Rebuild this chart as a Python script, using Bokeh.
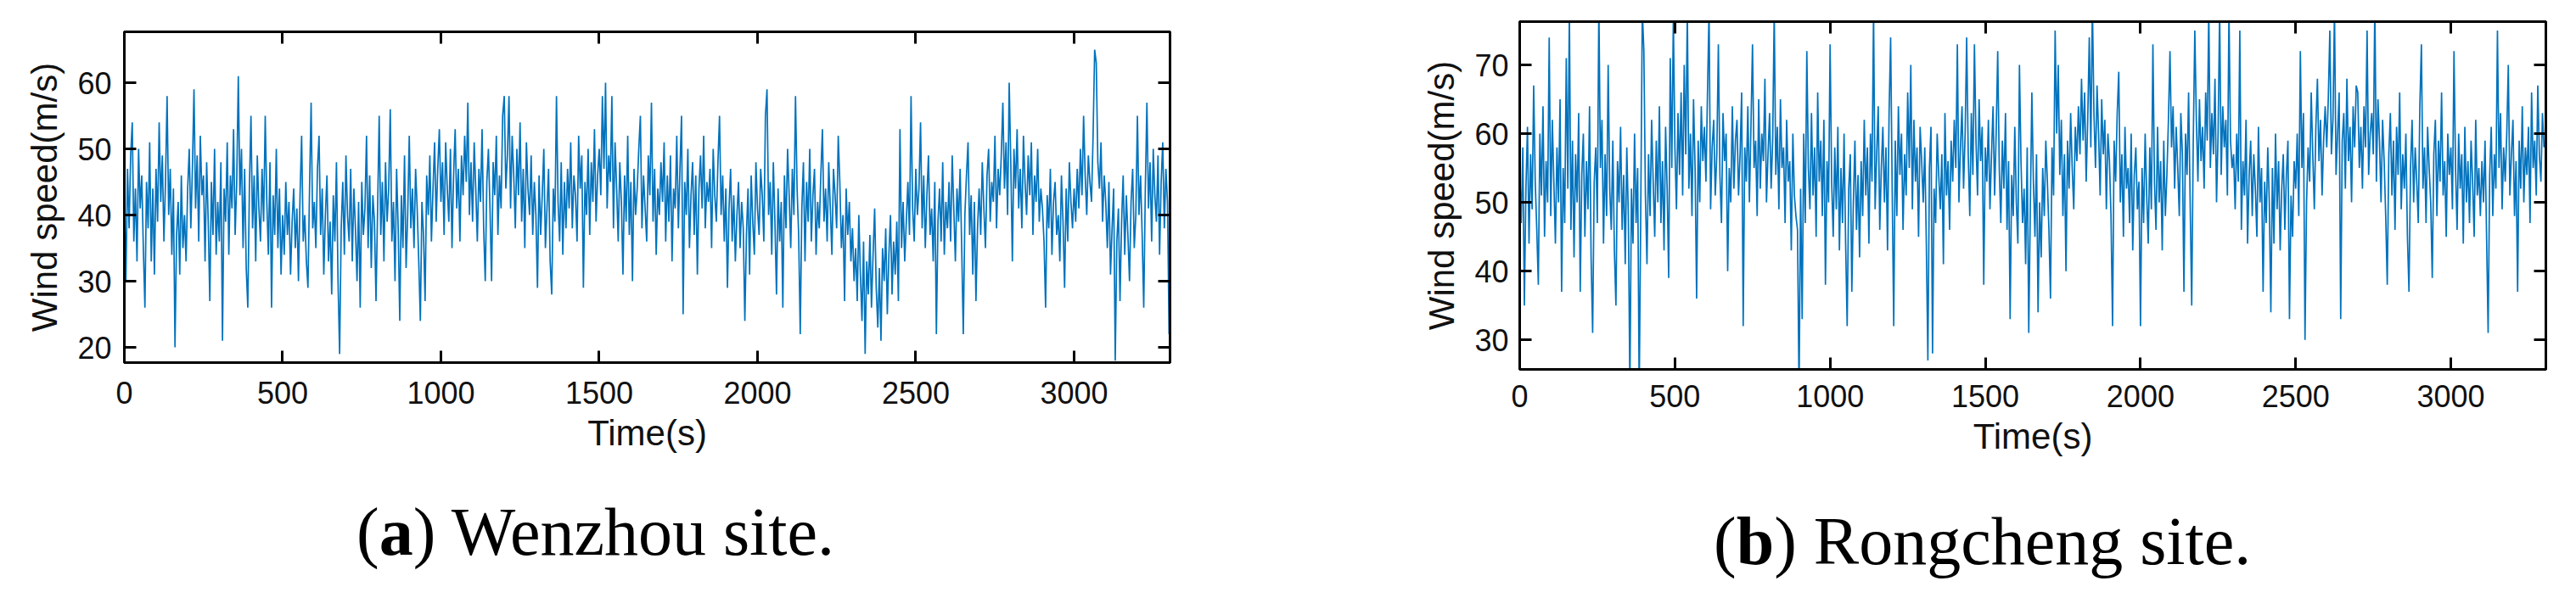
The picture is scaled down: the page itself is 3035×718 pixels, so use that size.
from bokeh.plotting import figure
from bokeh.models import LinearAxis, Range1d, FixedTicker, Div
from bokeh.layouts import row, column
from bokeh.embed import file_html
from bokeh.resources import INLINE

# ---------------- data ----------------
time_s = list(range(0, 3301, 5))
x_ticks = [0, 500, 1000, 1500, 2000, 2500, 3000]
wz_y_ticks = [20, 30, 40, 50, 60]
rc_y_ticks = [30, 40, 50, 60, 70]

wenzhou = [
    43, 30, 47, 38, 49, 54, 36, 44, 33, 50, 41, 46, 35, 26, 45, 38, 51, 33, 44, 31,
    47, 39, 54, 42, 49, 36, 45, 58, 40, 47, 34, 44, 20, 37, 42, 31, 46, 35, 40, 33,
    44, 50, 38, 47, 59, 41, 49, 36, 52, 43, 46, 33, 48, 39, 27, 45, 37, 50, 34, 42,
    36, 48, 21, 44, 39, 51, 34, 46, 41, 53, 37, 45, 61, 43, 50, 35, 47, 32, 26, 44,
    55, 38, 46, 33, 49, 41, 36, 47, 39, 55, 42, 34, 48, 26, 43, 37, 50, 35, 44, 31,
    40, 34, 45, 37, 42, 31, 39, 44, 35, 41, 30, 43, 52, 36, 40, 33, 29, 44, 57, 38,
    42, 35, 47, 52, 37, 44, 31, 40, 46, 33, 39, 28, 43, 36, 48, 30, 19, 38, 45, 34,
    49, 40, 36, 47, 33, 44, 38, 30, 42, 26, 45, 37, 41, 52, 35, 46, 32, 43, 39, 27,
    41, 55, 37, 45, 33, 48, 39, 44, 56, 36, 42, 30, 47, 38, 24, 43, 35, 49, 32, 40,
    52, 38, 44, 35, 47, 41, 33, 24, 42, 37, 27, 46, 40, 49, 36, 44, 51, 39, 47, 53,
    42, 48, 37, 51, 44, 39, 50, 35, 46, 53, 41, 47, 36, 49, 43, 52, 45, 57, 40, 48,
    39, 51, 44, 36, 47, 42, 53, 38, 30, 45, 50, 41, 30, 48, 43, 52, 37, 46, 41, 55,
    58, 44, 49, 58, 41, 52, 46, 38, 50, 43, 54, 39, 47, 35, 51, 44, 40, 49, 37, 45,
    40, 29, 46, 37, 43, 50, 35, 41, 47, 33, 28, 44, 39, 58, 42, 36, 48, 34, 45, 38,
    47, 41, 51, 38, 46, 43, 36, 52, 44, 49, 29, 45, 40, 50, 37, 48, 42, 53, 39, 46,
    50, 43, 58, 47, 60, 41, 49, 45, 58, 38, 51, 44, 36, 48, 42, 31, 46, 39, 52, 37,
    45, 30, 47, 40, 44, 50, 55, 38, 46, 41, 36, 49, 43, 57, 39, 47, 34, 44, 40, 48,
    42, 51, 36, 46, 39, 49, 33, 44, 41, 52, 38, 47, 55, 25, 45, 40, 50, 35, 43, 48,
    37, 46, 31, 44, 49, 41, 52, 38, 45, 42, 47, 35, 50, 43, 39, 48, 55, 40, 46, 36,
    44, 29, 41, 47, 36, 43, 33, 40, 45, 35, 42, 38, 24, 37, 44, 31, 46, 39, 34, 48,
    41, 37, 47, 43, 36, 55, 59, 40, 45, 34, 48, 39, 28, 44, 36, 42, 26, 46, 38, 50,
    43, 35, 47, 40, 58, 44, 37, 22, 41, 48, 33, 45, 39, 50, 36, 43, 47, 34, 42, 38,
    46, 53, 39, 44, 36, 48, 41, 34, 47, 43, 38, 52, 45, 35, 40, 27, 44, 37, 42, 33,
    38, 30, 35, 27, 40, 31, 24, 36, 19, 33, 28, 37, 26, 34, 41, 29, 23, 32, 21, 35,
    30, 38, 25, 34, 40, 28, 36, 31, 39, 27, 53, 35, 42, 33, 39, 45, 37, 58, 41, 36,
    47, 40, 44, 54, 38, 46, 35, 43, 49, 37, 41, 33, 45, 22, 39, 44, 36, 48, 34, 42,
    38, 45, 36, 49, 41, 33, 44, 39, 47, 35, 22, 40, 46, 51, 37, 43, 31, 42, 27, 38,
    44, 37, 48, 41, 35, 46, 50, 39, 45, 42, 52, 38, 47, 43, 49, 57, 44, 51, 40, 60,
    48, 33, 50, 44, 53, 41, 47, 38, 52, 45, 40, 49, 43, 51, 37, 46, 42, 50, 39, 44,
    41, 36, 26, 43, 38, 47, 34, 42, 45, 37, 40, 33, 46, 39, 29, 44, 36, 48, 42, 38,
    44, 39, 47, 41, 50, 43, 55, 46, 40, 49, 45, 42, 52, 65, 63, 48, 44, 51, 39, 46,
    42, 35, 45, 31, 38, 44, 18, 36, 41, 27, 39, 46, 34, 43, 37, 30, 42, 47, 35, 40,
    55, 40, 46, 37, 26, 44, 57, 41, 48, 36, 50, 43, 39, 49, 34, 45, 51, 38, 47, 42,
    22,
]

rongcheng = [
    55, 47, 58, 35, 52, 61, 44, 57, 49, 67, 53, 46, 38, 60, 51, 64, 45, 56, 50, 74,
    48, 62, 53, 44, 58, 50, 65, 37, 55, 47, 71, 52, 78, 46, 59, 42, 57, 50, 63, 37,
    54, 60, 45, 56, 49, 64, 42, 31, 53, 58, 47, 79, 55, 62, 44, 57, 48, 70, 52, 46,
    59, 43, 35, 56, 50, 61, 46, 54, 41, 58, 48, 23, 52, 44, 60, 47, 55, 22, 49, 78,
    72, 51, 41, 57, 48, 62, 53, 45, 59, 50, 64, 47, 56, 43, 61, 52, 39, 71, 55, 77,
    58, 49, 63, 54, 66, 51, 70, 57, 78, 52, 60, 48, 65, 55, 36, 59, 50, 64, 56, 61,
    53, 66, 78, 49, 58, 62, 51, 57, 73, 54, 47, 63, 56, 60, 40, 55, 50, 64, 52, 59,
    62, 51, 57, 66, 32, 58, 53, 64, 50, 61, 73, 55, 59, 48, 65, 52, 60, 56, 68, 50,
    57, 63, 52, 59, 78, 54, 61, 49, 65, 55, 58, 47, 62, 53, 56, 43, 60, 51, 48, 46,
    22, 52, 33, 60, 47, 72, 55, 49, 63, 51, 58, 45, 66, 53, 59, 48, 62, 38, 56, 50,
    73, 53, 45, 58, 49, 61, 43, 55, 47, 60, 44, 32, 52, 57, 37, 50, 59, 46, 54, 42,
    56, 48, 62, 51, 58, 44, 60, 53, 78, 49, 57, 64, 46, 55, 61, 50, 58, 43, 63, 74,
    52, 32, 59, 48, 64, 54, 60, 46, 57, 51, 66, 55, 70, 49, 62, 53, 58, 45, 61, 56,
    50, 58, 44, 27, 55, 61, 28, 52, 47, 60, 54, 49, 57, 41, 63, 51, 56, 46, 59, 53,
    62, 55, 73, 50, 58, 64, 52, 60, 74, 57, 48, 63, 54, 73, 59, 51, 65, 56, 61, 38,
    58, 53, 62, 49, 57, 64, 51, 60, 72, 55, 47, 59, 52, 63, 46, 56, 33, 54, 48, 61,
    50, 44, 70, 56, 47, 52, 41, 58, 31, 49, 66, 53, 45, 57, 34, 50, 42, 55, 48, 59,
    53, 46, 36, 58, 51, 75, 60, 70, 54, 62, 48, 57, 40, 59, 52, 63, 55, 49, 61, 56,
    64, 57, 68, 59, 66, 53, 62, 74, 58, 79, 63, 55, 67, 60, 51, 65, 57, 62, 49, 60,
    56, 48, 32, 59, 53, 63, 69, 50, 57, 45, 61, 52, 55, 47, 60, 43, 54, 58, 49, 53,
    32, 55, 47, 60, 51, 44, 58, 49, 73, 53, 46, 61, 50, 56, 43, 59, 48, 54, 62, 72,
    58, 64, 52, 61, 55, 48, 63, 57, 37, 60, 54, 66, 50, 35, 59, 75, 62, 53, 65, 56,
    61, 52, 66, 59, 78, 55, 63, 57, 68, 50, 60, 78, 54, 64, 58, 62, 51, 78, 59, 55,
    57, 49, 60, 53, 75, 46, 56, 51, 62, 44, 54, 59, 48, 57, 52, 45, 61, 50, 55, 37,
    53, 47, 58, 50, 34, 55, 44, 60, 49, 56, 43, 52, 57, 46, 54, 59, 33, 51, 45, 56,
    52, 60, 48, 72, 55, 63, 30, 50, 58, 53, 66, 57, 49, 61, 68, 56, 62, 51, 59, 64,
    58, 65, 75, 57, 62, 78, 54, 60, 66, 33, 59, 63, 52, 68, 56, 61, 50, 64, 58, 67,
    66, 55, 61, 52, 64, 58, 75, 54, 60, 63, 57, 79, 53, 65, 59, 50, 62, 56, 48, 38,
    57, 63, 51, 59, 46, 61, 54, 66, 49, 57, 52, 60, 45, 37, 55, 62, 50, 58, 53, 47,
    64, 73, 52, 58, 47, 61, 55, 50, 39, 57, 62, 48, 59, 53, 66, 51, 56, 45, 60, 54,
    58, 49, 72, 55, 46, 60, 52, 57, 44, 61, 50, 56, 47, 59, 53, 45, 62, 51, 55, 48,
    56, 50, 59, 45, 31, 54, 61, 48, 57, 52, 75, 55, 63, 49, 58, 53, 60, 70, 51, 57,
    62, 48, 56, 37, 59, 52, 64, 50, 58, 54, 61, 47, 66, 55, 59, 51, 67, 57, 53, 63,
    58,
]

x_label = "Time(s)"
y_label = "Wind speed(m/s)"
captions = [("a", "Wenzhou site."), ("b", "Rongcheng site.")]

LINE_COLOR = "#0072BD"
SANS = "Liberation Sans"
SERIF = "Liberation Serif"


def style_axis(ax, ticks, show_labels, standoff):
    ax.ticker = FixedTicker(ticks=ticks)
    ax.major_tick_in = 14
    ax.major_tick_out = 0
    ax.minor_tick_in = 0
    ax.minor_tick_out = 0
    ax.major_tick_line_width = 3
    ax.major_tick_line_color = "black"
    ax.axis_line_width = 3
    ax.axis_line_color = "black"
    ax.major_label_text_font = SANS
    ax.major_label_text_font_size = "36px"
    ax.major_label_text_color = "#111111"
    ax.major_label_standoff = standoff
    ax.axis_label_text_font = SANS
    ax.axis_label_text_font_size = "42px"
    ax.axis_label_text_font_style = "normal"
    ax.axis_label_text_color = "#111111"
    if not show_labels:
        ax.major_label_overrides = {t: "" for t in ticks}


def make_panel(values, y_start, y_end, y_ticks, x_end, width, height,
               b_left, b_right, b_top, b_bottom, x_standoff, x_lab_standoff,
               y_standoff, y_lab_standoff):
    p = figure(width=width, height=height,
               x_range=Range1d(0, x_end), y_range=Range1d(y_start, y_end),
               output_backend="svg", toolbar_location=None,
               min_border_left=b_left, min_border_right=b_right,
               min_border_top=b_top, min_border_bottom=b_bottom)
    p.xgrid.visible = False
    p.ygrid.visible = False
    p.outline_line_color = "black"
    p.outline_line_width = 3
    p.background_fill_color = "white"
    p.border_fill_color = "white"

    p.line(time_s, values, line_color=LINE_COLOR, line_width=1.7)

    style_axis(p.xaxis[0], x_ticks, True, x_standoff)
    p.xaxis[0].axis_label = x_label
    p.xaxis[0].axis_label_standoff = x_lab_standoff
    style_axis(p.yaxis[0], y_ticks, True, y_standoff)
    p.yaxis[0].axis_label = y_label
    p.yaxis[0].axis_label_standoff = y_lab_standoff

    top_ax = LinearAxis()
    style_axis(top_ax, x_ticks, False, 0)
    p.add_layout(top_ax, "above")
    right_ax = LinearAxis()
    style_axis(right_ax, y_ticks, False, 0)
    p.add_layout(right_ax, "right")
    return p


def make_caption(cap, width, height, pad_left, pad_top):
    html = (f'<span>(<b>{cap[0]}</b>) {cap[1]}</span>')
    return Div(text=html, width=width, height=height, margin=0,
               styles={"font-family": SERIF, "font-size": "80px",
                       "line-height": "80px", "color": "black",
                       "padding-left": f"{pad_left}px",
                       "padding-top": f"{pad_top}px",
                       "white-space": "nowrap", "box-sizing": "border-box"})


p1 = make_panel(wenzhou, 17.7, 67.7, wz_y_ticks, 3303, 1492, 570,
                146, 114, 37, 143, 22, 8, 15, 12)
p2 = make_panel(rongcheng, 25.7, 76.3, rc_y_ticks, 3306, 1525, 590,
                298, 18, 25, 155, 18, 8, 13, 12)
c1 = make_caption(captions[0], 1492, 130, 420, 17)
c2 = make_caption(captions[1], 1525, 110, 527, 8)

layout = row(column(p1, c1, spacing=0), column(p2, c2, spacing=0), spacing=0)
open("out.html", "w").write(file_html(layout, INLINE))
